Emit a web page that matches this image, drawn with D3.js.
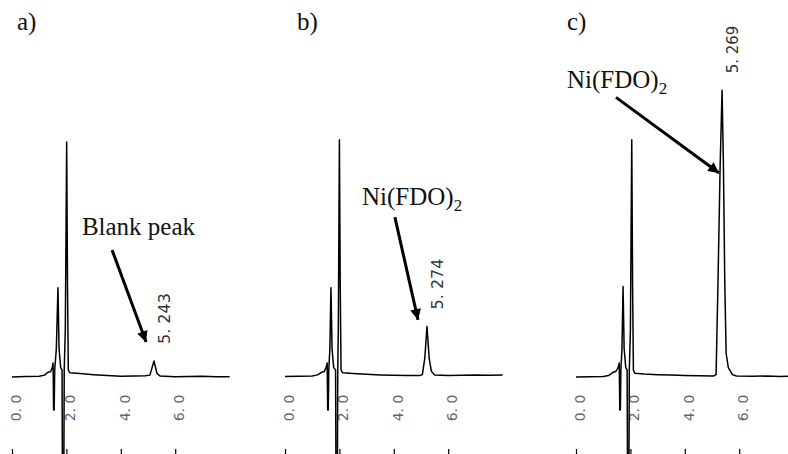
<!DOCTYPE html>
<html lang="en">
<head>
<meta charset="utf-8">
<title>Chromatograms</title>
<script src="https://d3js.org/d3.v7.min.js"></script>
<style>
  html, body { margin: 0; padding: 0; background: #fff; }
  svg { display: block; }
  .panel-label { font-family: "Liberation Serif", serif; font-size: 25px; fill: #111; }
  .note { font-family: "Liberation Serif", serif; font-size: 25px; fill: #111; }
  .tick-label { font-family: "DejaVu Sans", sans-serif; font-size: 14px; fill: #666; }
  .rt-label { font-family: "DejaVu Sans", sans-serif; font-size: 16px; fill: #333; }
</style>
</head>
<body>
<svg id="chart" width="788" height="454"></svg>
<script>
// ---- data (time in min, signal in arbitrary units) ----
const panelNames = ["a)", "b)", "c)"];
const tickValues = [0, 2, 4, 6];
const tickLabels = ["0. 0", "2. 0", "4. 0", "6. 0"];

const traceA = [
  [0.0, 0.0], [0.5, 0.2], [1.0, 0.3], [1.2, 0.8], [1.32, 2.0], [1.42, 2.2], [1.48, 4],
  [1.51, 6], [1.53, -14], [1.55, -14], [1.57, 3], [1.63, 12], [1.69, 38], [1.73, 12], [1.79, 4],
  [1.84, 3], [1.86, -60], [1.90, -60], [1.92, 3], [1.96, 20], [2.01, 100], [2.04, 40], [2.07, 3],
  [2.12, 1.8], [2.5, 1.5], [3.0, 1.0], [3.5, 0.6], [4.0, 0.3], [4.5, 0.4], [4.9, 0.5],
  [5.07, 0.8], [5.22, 6.8], [5.33, 1.5], [5.45, 0.4], [6.0, 0.1], [6.5, 0.2], [7.0, 0.3],
  [7.5, 0.1], [8.0, 0.1]
];
const traceB = [
  [0.0, 0.2], [0.5, 0.3], [1.0, 0.4], [1.2, 0.9], [1.34, 2.0], [1.44, 2.3], [1.51, 4],
  [1.55, 6], [1.57, -14], [1.59, -14], [1.61, 3], [1.65, 12], [1.69, 38], [1.73, 12], [1.79, 4],
  [1.86, 3], [1.88, -60], [1.92, -60], [1.94, 3], [1.96, 20], [2.00, 101], [2.03, 40], [2.06, 3],
  [2.12, 1.8], [2.5, 1.5], [3.0, 1.2], [3.5, 0.9], [4.0, 0.7], [4.5, 0.6], [4.95, 0.6],
  [5.05, 1.0], [5.14, 8], [5.22, 21.5], [5.30, 8], [5.38, 2.5], [5.5, 0.8], [6.0, 0.6],
  [6.5, 0.7], [7.0, 0.8], [7.5, 0.7], [8.0, 0.8]
];
const traceC = [
  [0.0, 0.0], [0.5, 0.1], [1.0, 0.2], [1.2, 0.6], [1.36, 2.0], [1.46, 2.3], [1.55, 4],
  [1.59, 6], [1.61, -14], [1.63, -14], [1.65, 3], [1.69, 12], [1.73, 38.5], [1.77, 12], [1.83, 4],
  [1.88, 3], [1.90, -60], [1.94, -60], [1.96, 3], [2.00, 20], [2.05, 101], [2.08, 40], [2.11, 3],
  [2.16, 1.6], [2.5, 1.3], [3.0, 1.0], [3.5, 0.8], [4.0, 0.6], [4.5, 0.5], [5.05, 0.4],
  [5.15, 1.0], [5.22, 40], [5.30, 90], [5.37, 122], [5.42, 90], [5.47, 40], [5.52, 10],
  [5.6, 4], [5.75, 1], [5.9, 0.4], [6.5, 0.3], [7.0, 0.4], [7.5, 0.2], [7.8, 0.3]
];
const traces = [traceA, traceB, traceC];

const peakTimes = [5.22, 5.22, 5.37];
const peakHeights = [6.8, 21.5, 122];
const peakLabels = ["5. 243", "5. 274", "5. 269"];

const noteTexts = ["Blank peak", "Ni(FDO)", "Ni(FDO)"];
const noteSubs = ["", "2", "2"];
// annotation text anchor and arrow in data units [t, v]
const notePos = [[2.57, 60.4], [2.83, 73.2], [-0.33, 123]];
const arrowFrom = [[3.68, 54], [4.04, 68], [1.47, 119]];
const arrowTo = [[4.93, 14.9], [4.89, 24.3], [5.26, 86.8]];

// ---- layout ----
const panelX0 = [12, 285, 576];
const pxPerMin = 27.2;
const panelLabelX = [17, 297, 567];
const rtFont = [16, 16, 15];

const svg = d3.select("#chart");

svg.append("defs").append("marker")
  .attr("id", "head")
  .attr("viewBox", "0 0 10 10")
  .attr("refX", 10).attr("refY", 5)
  .attr("markerWidth", 5).attr("markerHeight", 3.6)
  .attr("markerUnits", "strokeWidth")
  .attr("orient", "auto")
  .append("path")
  .attr("d", "M0,0 L10,5 L0,10 Z")
  .attr("fill", "#000");

const y = d3.scaleLinear().domain([0, 100]).range([377, 142]);

panelNames.forEach((name, i) => {
  const x = d3.scaleLinear()
    .domain([0, 8])
    .range([panelX0[i], panelX0[i] + 8 * pxPerMin]);
  const g = svg.append("g");

  g.append("text")
    .attr("class", "panel-label")
    .attr("x", panelLabelX[i])
    .attr("y", 30)
    .text(name);

  // tick marks at the very bottom
  g.append("g")
    .attr("transform", "translate(0,449)")
    .call(d3.axisBottom(x).tickValues(tickValues).tickSize(10).tickFormat(""))
    .call(a => a.select(".domain").remove())
    .call(a => a.selectAll("line").attr("stroke", "#000").attr("stroke-width", 1.2));

  // rotated tick labels
  g.selectAll(".tick-label")
    .data(tickValues)
    .enter()
    .append("text")
    .attr("class", "tick-label")
    .attr("transform", (d) => `translate(${x(d) + 4},408) rotate(-90)`)
    .attr("text-anchor", "middle")
    .attr("dominant-baseline", "central")
    .text((d, j) => tickLabels[j]);

  // the trace
  const line = d3.line().x(d => x(d[0])).y(d => y(d[1]));
  g.append("path")
    .datum(traces[i])
    .attr("d", line)
    .attr("fill", "none")
    .attr("stroke", "#000")
    .attr("stroke-width", 1.5)
    .attr("stroke-linejoin", "round");

  // retention time label
  g.append("text")
    .attr("class", "rt-label")
    .style("font-size", rtFont[i] + "px")
    .attr("transform", `translate(${x(peakTimes[i]) + 11},${y(peakHeights[i]) - 17}) rotate(-90)`)
    .attr("dominant-baseline", "central")
    .text(peakLabels[i]);

  // annotation text and arrow
  const t = g.append("text")
    .attr("class", "note")
    .attr("x", x(notePos[i][0]))
    .attr("y", y(notePos[i][1]))
    .text(noteTexts[i]);
  if (noteSubs[i]) {
    t.append("tspan")
      .attr("dy", 6)
      .style("font-size", "17px")
      .text(noteSubs[i]);
  }

  g.append("line")
    .attr("x1", x(arrowFrom[i][0]))
    .attr("y1", y(arrowFrom[i][1]))
    .attr("x2", x(arrowTo[i][0]))
    .attr("y2", y(arrowTo[i][1]))
    .attr("stroke", "#000")
    .attr("stroke-width", 3)
    .attr("marker-end", "url(#head)");
});
</script>
</body>
</html>
